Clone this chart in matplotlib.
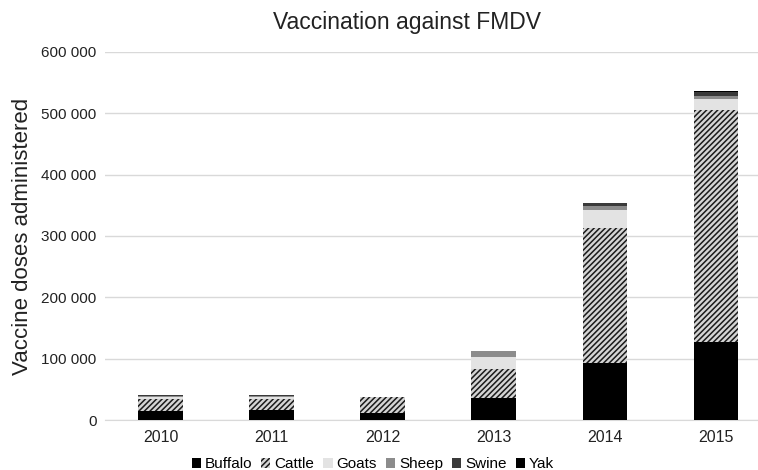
import numpy as np
import matplotlib.pyplot as plt

plt.rcParams['font.family'] = ['Liberation Sans', 'DejaVu Sans']
plt.rcParams['hatch.linewidth'] = 1.1

# Données
years = ['2010', '2011', '2012', '2013', '2014', '2015']
buffalo = [14700, 16300, 10900, 35400, 92500, 127000]
cattle = [19500, 17900, 26100, 47300, 220200, 378000]
goats = [3300, 3300, 500, 20600, 29900, 18500]
sheep = [1500, 1500, 300, 9000, 6500, 4000]
swine = [1500, 1500, 200, 800, 5000, 7000]
yak = [200, 200, 100, 200, 500, 1500]

series = [
    ('Buffalo', buffalo, '#000000', None),
    ('Cattle', cattle, '#d4d4d4', '//////'),
    ('Goats', goats, '#e3e3e3', None),
    ('Sheep', sheep, '#8c8c8c', None),
    ('Swine', swine, '#3a3a3a', None),
    ('Yak', yak, '#000000', None),
]

fig = plt.figure(figsize=(7.58, 4.70), dpi=100)
ax = fig.add_axes([105 / 758, 1 - 420 / 470, 653 / 758, 368 / 470])

x = np.arange(len(years))
bottom = np.zeros(len(years))
for name, vals, col, hatch in series:
    if hatch:
        ax.bar(x, vals, 0.4, bottom=bottom, color=col, hatch=hatch,
               edgecolor='#1a1a1a', linewidth=0, label=name, zorder=3)
    else:
        ax.bar(x, vals, 0.4, bottom=bottom, color=col, edgecolor=col,
               linewidth=0, label=name, zorder=3)
    bottom += np.array(vals)

ax.set_xlim(-0.5, 5.38)
ax.set_ylim(0, 600000)
ax.set_yticks(np.arange(0, 600001, 100000))
ax.set_yticklabels([f'{v:,}'.replace(',', ' ') for v in range(0, 600001, 100000)])
ax.set_xticks(x)
ax.set_xticklabels(years)
ax.tick_params(length=0, labelsize=11.5, colors='#222222', pad=6)
ax.tick_params(axis='y', labelsize=11)
ax.tick_params(axis='x', pad=7)
ax.grid(axis='y', color='#d9d9d9', linewidth=1, zorder=0)
for s in ['top', 'right', 'left']:
    ax.spines[s].set_visible(False)
ax.spines['bottom'].set_color('#d9d9d9')

ax.set_ylabel('Vaccine doses administered', fontsize=16, color='#222222', labelpad=6)
fig.text(407 / 758, 1 - 22 / 470, 'Vaccination against FMDV', ha='center', va='center',
         fontsize=16.5, color='#222222')

ax.legend(loc='lower center', bbox_to_anchor=(0.41, -0.168), ncol=6,
          frameon=False, fontsize=11, handlelength=0.6, handleheight=0.6,
          handletextpad=0.25, columnspacing=0.6, borderpad=0.2)

fig.savefig('out.png', dpi=100)
